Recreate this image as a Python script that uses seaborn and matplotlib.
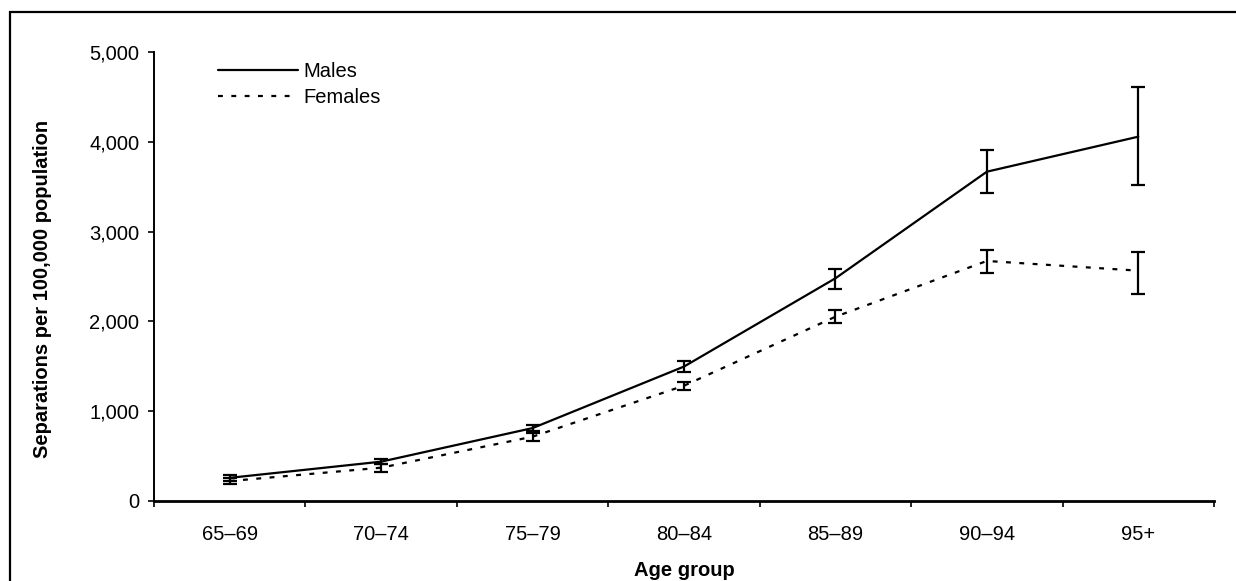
import matplotlib
matplotlib.use("Agg")
import matplotlib.pyplot as plt
from matplotlib.patches import Rectangle
import seaborn as sns
import pandas as pd
import numpy as np

age_groups = ["65\u201369", "70\u201374", "75\u201379", "80\u201384", "85\u201389", "90\u201394", "95+"]
males = [258, 438, 812, 1497, 2480, 3667, 4057]
males_lo = [228, 412, 775, 1440, 2364, 3427, 3516]
males_hi = [288, 464, 850, 1558, 2580, 3909, 4614]
females = [222, 371, 716, 1284, 2052, 2673, 2565]
females_lo = [185, 326, 670, 1240, 1979, 2542, 2302]
females_hi = [258, 410, 755, 1322, 2127, 2795, 2776]
yticks = [0, 1000, 2000, 3000, 4000, 5000]

sns.set_theme(style="white")
plt.rcParams['font.family'] = ['Liberation Sans', 'DejaVu Sans']
plt.rcParams['text.color'] = 'black'

pos = np.arange(len(age_groups))
df = pd.DataFrame({
    "pos": np.concatenate([pos, pos]),
    "rate": males + females,
    "sex": ["Males"] * len(pos) + ["Females"] * len(pos),
})

fig = plt.figure(figsize=(12.36, 5.81), dpi=100)
ax = fig.add_axes([154 / 1236, 1 - 501 / 581, 1060 / 1236, 449 / 581])

sns.lineplot(data=df, x="pos", y="rate", style="sex", style_order=["Males", "Females"],
             dashes={"Males": "", "Females": (2.2, 3.8)}, color="black", lw=1.6,
             ax=ax, legend=True)

for vals, lo, hi in [(males, males_lo, males_hi), (females, females_lo, females_hi)]:
    v = np.array(vals)
    err = np.vstack([v - np.array(lo), np.array(hi) - v])
    ax.errorbar(pos, v, yerr=err, fmt="none", ecolor="black", elinewidth=1.6,
                capsize=5, capthick=1.6)

ax.set_xlim(-0.5, len(age_groups) - 0.5)
ax.set_ylim(0, 5000)
ax.set_yticks(yticks)
ax.set_yticklabels([f"{t:,}" for t in yticks])
ax.set_xticks(np.arange(-0.5, len(age_groups), 1.0))
ax.set_xticklabels([])
ax.set_xticks(pos, minor=True)
ax.set_xticklabels(age_groups, minor=True)
ax.tick_params(axis="x", which="major", direction="out", length=4.5, width=1.2, color="black")
ax.tick_params(axis="x", which="minor", length=0, pad=17, labelsize=14.5, labelcolor="black")
ax.tick_params(axis="y", direction="out", length=4.5, width=1.2, color="black", pad=6,
               labelsize=14.5, labelcolor="black", left=True)
ax.tick_params(axis="x", bottom=True, which="both")

for s in ["top", "right"]:
    ax.spines[s].set_visible(False)
for s in ["left", "bottom"]:
    ax.spines[s].set_color("black")
    ax.spines[s].set_linewidth(1.4)
ax.spines["bottom"].set_linewidth(2)

ax.set_xlabel("Age group", fontsize=14.5, fontweight="bold", color="black")
ax.set_ylabel("Separations per 100,000 population", fontsize=14.5, fontweight="bold", color="black")
ax.yaxis.set_label_coords(-0.096, 0.473)
ax.xaxis.set_label_coords(0.5, -0.133)

handles, labels = ax.get_legend_handles_labels()
leg = ax.legend(handles, labels, loc="upper left", bbox_to_anchor=(0.06, 0.978), frameon=False,
                fontsize=14.5, handlelength=4.0, handletextpad=0.25, labelspacing=0.35,
                borderpad=0, borderaxespad=0, labelcolor="black")

fig.add_artist(Rectangle((10 / 1236, -0.1), 1.2, 1.1 - 12 / 581, transform=fig.transFigure,
                         fill=False, edgecolor="black", linewidth=1.6))

fig.savefig("out.png", dpi=100, facecolor="white")
